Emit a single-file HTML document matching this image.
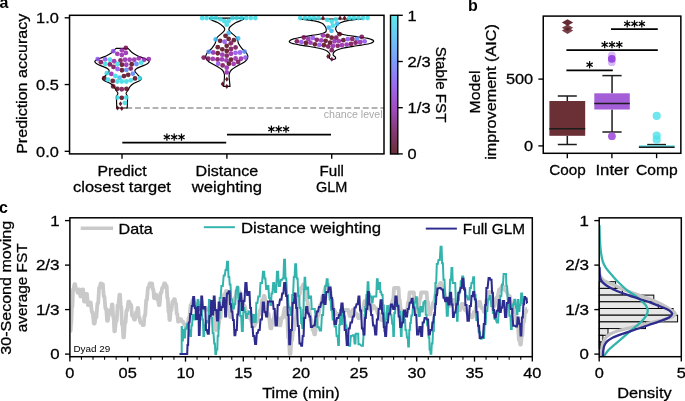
<!DOCTYPE html>
<html><head><meta charset="utf-8"><title>Figure</title>
<style>
html,body{margin:0;padding:0;background:#fff;}
body{width:685px;height:401px;overflow:hidden;}
svg{display:block;font-family:"Liberation Sans",sans-serif;opacity:0.999;will-change:transform;}
</style></head><body>
<svg width="685" height="401" viewBox="0 0 685 401">
<rect x="0" y="0" width="685" height="401" fill="#fff"/>
<line x1="126.30" y1="108.00" x2="384.00" y2="108.00" stroke="#b3b3b3" stroke-width="1.85" stroke-dasharray="5.9 2.86"/>
<text x="382.60" y="118.00" font-size="10.60" text-anchor="end" fill="#a9a9a9">chance level</text>
<path d="M116.10,48.30 C115.75,48.67 114.80,49.72 114.00,50.50 C113.20,51.28 112.47,52.17 111.30,53.00 C110.13,53.83 108.85,54.62 107.00,55.50 C105.15,56.38 102.08,57.47 100.20,58.30 C98.32,59.13 96.60,59.90 95.70,60.50 C94.80,61.10 94.57,61.32 94.80,61.90 C95.03,62.48 95.82,63.25 97.10,64.00 C98.38,64.75 100.80,65.65 102.50,66.40 C104.20,67.15 106.18,67.75 107.30,68.50 C108.42,69.25 109.12,70.15 109.20,70.90 C109.28,71.65 108.47,72.15 107.80,73.00 C107.13,73.85 106.05,75.12 105.20,76.00 C104.35,76.88 102.93,77.58 102.70,78.30 C102.47,79.02 102.45,79.38 103.80,80.30 C105.15,81.22 109.10,82.73 110.80,83.80 C112.50,84.87 113.17,85.67 114.00,86.70 C114.83,87.73 115.15,88.90 115.80,90.00 C116.45,91.10 117.75,92.30 117.90,93.30 C118.05,94.30 116.93,94.88 116.70,96.00 C116.47,97.12 116.48,98.00 116.50,100.00 C116.52,102.00 116.75,106.67 116.80,108.00 L127.20,108.00 C127.25,106.67 127.48,102.00 127.50,100.00 C127.52,98.00 127.53,97.12 127.30,96.00 C127.07,94.88 125.95,94.30 126.10,93.30 C126.25,92.30 127.55,91.10 128.20,90.00 C128.85,88.90 129.17,87.73 130.00,86.70 C130.83,85.67 131.50,84.87 133.20,83.80 C134.90,82.73 138.85,81.22 140.20,80.30 C141.55,79.38 141.53,79.02 141.30,78.30 C141.07,77.58 139.65,76.88 138.80,76.00 C137.95,75.12 136.87,73.85 136.20,73.00 C135.53,72.15 134.72,71.65 134.80,70.90 C134.88,70.15 135.58,69.25 136.70,68.50 C137.82,67.75 139.80,67.15 141.50,66.40 C143.20,65.65 145.62,64.75 146.90,64.00 C148.18,63.25 148.97,62.48 149.20,61.90 C149.43,61.32 149.20,61.10 148.30,60.50 C147.40,59.90 145.68,59.13 143.80,58.30 C141.92,57.47 138.85,56.38 137.00,55.50 C135.15,54.62 133.87,53.83 132.70,53.00 C131.53,52.17 130.80,51.28 130.00,50.50 C129.20,49.72 128.25,48.67 127.90,48.30 Z" fill="none" stroke="#000" stroke-width="1.15" stroke-linejoin="round"/>
<circle cx="125.83" cy="47.88" r="2.4" fill="#760b55" fill-opacity="0.86"/>
<circle cx="113.22" cy="51.19" r="2.4" fill="#8b4feb" fill-opacity="0.86"/>
<circle cx="121.94" cy="50.34" r="2.4" fill="#9123aa" fill-opacity="0.86"/>
<circle cx="117.30" cy="53.85" r="2.4" fill="#9123aa" fill-opacity="0.86"/>
<circle cx="121.75" cy="55.08" r="2.4" fill="#9123aa" fill-opacity="0.86"/>
<circle cx="125.83" cy="52.90" r="2.4" fill="#9123aa" fill-opacity="0.86"/>
<circle cx="97.77" cy="59.06" r="2.4" fill="#8b4feb" fill-opacity="0.86"/>
<circle cx="105.17" cy="59.35" r="2.4" fill="#8b4feb" fill-opacity="0.86"/>
<circle cx="109.91" cy="59.73" r="2.4" fill="#39dae5" fill-opacity="0.86"/>
<circle cx="114.17" cy="61.24" r="2.4" fill="#9123aa" fill-opacity="0.86"/>
<circle cx="120.52" cy="60.48" r="2.4" fill="#760b55" fill-opacity="0.86"/>
<circle cx="125.07" cy="59.73" r="2.4" fill="#9123aa" fill-opacity="0.86"/>
<circle cx="129.62" cy="59.73" r="2.4" fill="#9123aa" fill-opacity="0.86"/>
<circle cx="134.27" cy="59.73" r="2.4" fill="#9123aa" fill-opacity="0.86"/>
<circle cx="138.82" cy="58.30" r="2.4" fill="#9123aa" fill-opacity="0.86"/>
<circle cx="144.03" cy="59.73" r="2.4" fill="#9123aa" fill-opacity="0.86"/>
<circle cx="148.77" cy="59.06" r="2.4" fill="#9123aa" fill-opacity="0.86"/>
<circle cx="100.90" cy="62.19" r="2.4" fill="#760b55" fill-opacity="0.86"/>
<circle cx="105.17" cy="63.99" r="2.4" fill="#39dae5" fill-opacity="0.86"/>
<circle cx="109.91" cy="64.46" r="2.4" fill="#760b55" fill-opacity="0.86"/>
<circle cx="117.49" cy="63.99" r="2.4" fill="#39dae5" fill-opacity="0.86"/>
<circle cx="121.94" cy="64.75" r="2.4" fill="#56071c" fill-opacity="0.86"/>
<circle cx="126.30" cy="64.75" r="2.4" fill="#9123aa" fill-opacity="0.86"/>
<circle cx="131.71" cy="64.27" r="2.4" fill="#56071c" fill-opacity="0.86"/>
<circle cx="136.45" cy="63.99" r="2.4" fill="#5687f7" fill-opacity="0.86"/>
<circle cx="141.18" cy="62.66" r="2.4" fill="#39dae5" fill-opacity="0.86"/>
<circle cx="113.51" cy="66.93" r="2.4" fill="#760b55" fill-opacity="0.86"/>
<circle cx="117.49" cy="69.01" r="2.4" fill="#8b4feb" fill-opacity="0.86"/>
<circle cx="121.94" cy="70.25" r="2.4" fill="#56071c" fill-opacity="0.86"/>
<circle cx="126.30" cy="69.96" r="2.4" fill="#5687f7" fill-opacity="0.86"/>
<circle cx="130.76" cy="68.54" r="2.4" fill="#760b55" fill-opacity="0.86"/>
<circle cx="106.87" cy="73.14" r="2.4" fill="#39dae5" fill-opacity="0.86"/>
<circle cx="111.33" cy="73.90" r="2.4" fill="#9123aa" fill-opacity="0.86"/>
<circle cx="115.40" cy="75.98" r="2.4" fill="#39dae5" fill-opacity="0.86"/>
<circle cx="119.57" cy="77.69" r="2.4" fill="#3ab8f2" fill-opacity="0.86"/>
<circle cx="123.93" cy="76.08" r="2.4" fill="#56071c" fill-opacity="0.86"/>
<circle cx="128.20" cy="74.84" r="2.4" fill="#56071c" fill-opacity="0.86"/>
<circle cx="132.84" cy="73.71" r="2.4" fill="#5687f7" fill-opacity="0.86"/>
<circle cx="104.22" cy="78.16" r="2.4" fill="#56071c" fill-opacity="0.86"/>
<circle cx="108.01" cy="79.77" r="2.4" fill="#39dae5" fill-opacity="0.86"/>
<circle cx="112.75" cy="81.00" r="2.4" fill="#56071c" fill-opacity="0.86"/>
<circle cx="117.30" cy="81.48" r="2.4" fill="#39dae5" fill-opacity="0.86"/>
<circle cx="121.75" cy="81.48" r="2.4" fill="#39dae5" fill-opacity="0.86"/>
<circle cx="126.30" cy="81.48" r="2.4" fill="#39dae5" fill-opacity="0.86"/>
<circle cx="130.76" cy="80.34" r="2.4" fill="#39dae5" fill-opacity="0.86"/>
<circle cx="135.02" cy="78.45" r="2.4" fill="#56071c" fill-opacity="0.86"/>
<circle cx="139.76" cy="78.16" r="2.4" fill="#39dae5" fill-opacity="0.86"/>
<circle cx="113.22" cy="86.41" r="2.4" fill="#56071c" fill-opacity="0.86"/>
<circle cx="117.30" cy="88.87" r="2.4" fill="#56071c" fill-opacity="0.86"/>
<circle cx="121.75" cy="89.25" r="2.4" fill="#760b55" fill-opacity="0.86"/>
<circle cx="126.49" cy="88.87" r="2.4" fill="#56071c" fill-opacity="0.86"/>
<circle cx="117.30" cy="97.59" r="2.4" fill="#39dae5" fill-opacity="0.86"/>
<circle cx="121.75" cy="97.78" r="2.4" fill="#56071c" fill-opacity="0.86"/>
<circle cx="126.30" cy="97.59" r="2.4" fill="#39dae5" fill-opacity="0.86"/>
<circle cx="124.88" cy="102.81" r="2.4" fill="#39dae5" fill-opacity="0.86"/>
<path d="M120.52,101.20 L122.27,103.75 L120.52,106.30 L118.77,103.75 Z" fill="#56071c" fill-opacity="0.9"/>
<path d="M117.49,105.47 L119.24,108.02 L117.49,110.57 L115.74,108.02 Z" fill="#56071c" fill-opacity="0.9"/>
<path d="M121.75,105.94 L123.50,108.49 L121.75,111.04 L120.00,108.49 Z" fill="#56071c" fill-opacity="0.9"/>
<path d="M209.50,18.05 C209.73,18.34 209.55,19.04 210.90,19.80 C212.25,20.56 215.47,21.40 217.60,22.60 C219.73,23.80 222.52,25.78 223.70,27.00 C224.88,28.22 224.90,28.95 224.70,29.90 C224.50,30.85 223.82,31.37 222.50,32.70 C221.18,34.03 218.03,36.10 216.80,37.90 C215.57,39.70 215.93,41.77 215.10,43.50 C214.27,45.23 213.17,46.67 211.80,48.30 C210.43,49.93 207.88,51.72 206.90,53.30 C205.92,54.88 205.58,56.38 205.90,57.80 C206.22,59.22 207.07,60.43 208.80,61.80 C210.53,63.17 214.05,64.63 216.30,66.00 C218.55,67.37 220.97,68.68 222.30,70.00 C223.63,71.32 223.95,72.57 224.30,73.90 C224.65,75.23 224.47,76.48 224.40,78.00 C224.33,79.52 224.03,81.60 223.90,83.00 C223.77,84.40 223.65,85.83 223.60,86.40 L230.00,86.40 C229.95,85.83 229.83,84.40 229.70,83.00 C229.57,81.60 229.27,79.52 229.20,78.00 C229.13,76.48 228.95,75.23 229.30,73.90 C229.65,72.57 229.97,71.32 231.30,70.00 C232.63,68.68 235.05,67.37 237.30,66.00 C239.55,64.63 243.07,63.17 244.80,61.80 C246.53,60.43 247.38,59.22 247.70,57.80 C248.02,56.38 247.68,54.88 246.70,53.30 C245.72,51.72 243.17,49.93 241.80,48.30 C240.43,46.67 239.33,45.23 238.50,43.50 C237.67,41.77 238.03,39.70 236.80,37.90 C235.57,36.10 232.42,34.03 231.10,32.70 C229.78,31.37 229.10,30.85 228.90,29.90 C228.70,28.95 228.72,28.22 229.90,27.00 C231.08,25.78 233.87,23.80 236.00,22.60 C238.13,21.40 241.35,20.56 242.70,19.80 C244.05,19.04 243.87,18.34 244.10,18.05 Z" fill="none" stroke="#000" stroke-width="1.15" stroke-linejoin="round"/>
<circle cx="202.11" cy="18.06" r="2.4" fill="#39dae5" fill-opacity="0.86"/>
<circle cx="206.56" cy="18.06" r="2.4" fill="#39dae5" fill-opacity="0.86"/>
<circle cx="211.59" cy="18.06" r="2.4" fill="#39dae5" fill-opacity="0.86"/>
<circle cx="216.04" cy="18.06" r="2.4" fill="#39dae5" fill-opacity="0.86"/>
<circle cx="232.44" cy="18.06" r="2.4" fill="#39dae5" fill-opacity="0.86"/>
<circle cx="236.71" cy="18.06" r="2.4" fill="#39dae5" fill-opacity="0.86"/>
<circle cx="241.45" cy="18.06" r="2.4" fill="#39dae5" fill-opacity="0.86"/>
<circle cx="246.18" cy="18.06" r="2.4" fill="#39dae5" fill-opacity="0.86"/>
<circle cx="250.73" cy="18.06" r="2.4" fill="#39dae5" fill-opacity="0.86"/>
<circle cx="255.38" cy="18.06" r="2.4" fill="#39dae5" fill-opacity="0.86"/>
<circle cx="220.40" cy="19.19" r="2.4" fill="#39dae5" fill-opacity="0.86"/>
<circle cx="224.38" cy="21.18" r="2.4" fill="#39dae5" fill-opacity="0.86"/>
<circle cx="228.65" cy="20.90" r="2.4" fill="#39dae5" fill-opacity="0.86"/>
<circle cx="226.75" cy="24.69" r="2.4" fill="#39dae5" fill-opacity="0.86"/>
<circle cx="228.65" cy="33.03" r="2.4" fill="#3ab8f2" fill-opacity="0.86"/>
<circle cx="225.52" cy="35.78" r="2.4" fill="#56071c" fill-opacity="0.86"/>
<circle cx="228.65" cy="38.91" r="2.4" fill="#56071c" fill-opacity="0.86"/>
<circle cx="220.12" cy="40.81" r="2.4" fill="#56071c" fill-opacity="0.86"/>
<circle cx="224.57" cy="41.75" r="2.4" fill="#8b4feb" fill-opacity="0.86"/>
<circle cx="233.86" cy="40.14" r="2.4" fill="#56071c" fill-opacity="0.86"/>
<circle cx="215.66" cy="39.38" r="2.4" fill="#3ab8f2" fill-opacity="0.86"/>
<circle cx="238.13" cy="38.44" r="2.4" fill="#3ab8f2" fill-opacity="0.86"/>
<circle cx="230.83" cy="43.36" r="2.4" fill="#760b55" fill-opacity="0.86"/>
<circle cx="226.75" cy="45.83" r="2.4" fill="#56071c" fill-opacity="0.86"/>
<circle cx="217.75" cy="47.16" r="2.4" fill="#56071c" fill-opacity="0.86"/>
<circle cx="235.57" cy="47.44" r="2.4" fill="#760b55" fill-opacity="0.86"/>
<circle cx="222.30" cy="49.29" r="2.4" fill="#56071c" fill-opacity="0.86"/>
<circle cx="226.75" cy="50.90" r="2.4" fill="#56071c" fill-opacity="0.86"/>
<circle cx="231.02" cy="49.00" r="2.4" fill="#760b55" fill-opacity="0.86"/>
<circle cx="208.74" cy="51.85" r="2.4" fill="#5687f7" fill-opacity="0.86"/>
<circle cx="213.20" cy="52.51" r="2.4" fill="#9123aa" fill-opacity="0.86"/>
<circle cx="217.75" cy="53.27" r="2.4" fill="#56071c" fill-opacity="0.86"/>
<circle cx="222.30" cy="54.69" r="2.4" fill="#9123aa" fill-opacity="0.86"/>
<circle cx="226.75" cy="55.64" r="2.4" fill="#760b55" fill-opacity="0.86"/>
<circle cx="231.02" cy="53.74" r="2.4" fill="#9123aa" fill-opacity="0.86"/>
<circle cx="235.57" cy="52.80" r="2.4" fill="#8b4feb" fill-opacity="0.86"/>
<circle cx="240.02" cy="52.51" r="2.4" fill="#8b4feb" fill-opacity="0.86"/>
<circle cx="244.48" cy="51.56" r="2.4" fill="#5687f7" fill-opacity="0.86"/>
<circle cx="203.72" cy="57.54" r="2.4" fill="#760b55" fill-opacity="0.86"/>
<circle cx="208.27" cy="58.77" r="2.4" fill="#760b55" fill-opacity="0.86"/>
<circle cx="212.82" cy="58.96" r="2.4" fill="#9123aa" fill-opacity="0.86"/>
<circle cx="217.56" cy="59.43" r="2.4" fill="#760b55" fill-opacity="0.86"/>
<circle cx="222.01" cy="59.43" r="2.4" fill="#9123aa" fill-opacity="0.86"/>
<circle cx="226.47" cy="60.38" r="2.4" fill="#9123aa" fill-opacity="0.86"/>
<circle cx="231.02" cy="59.72" r="2.4" fill="#56071c" fill-opacity="0.86"/>
<circle cx="235.57" cy="58.48" r="2.4" fill="#9123aa" fill-opacity="0.86"/>
<circle cx="240.97" cy="58.77" r="2.4" fill="#9123aa" fill-opacity="0.86"/>
<circle cx="245.43" cy="57.54" r="2.4" fill="#8b4feb" fill-opacity="0.86"/>
<circle cx="218.22" cy="63.70" r="2.4" fill="#8b4feb" fill-opacity="0.86"/>
<circle cx="222.68" cy="65.40" r="2.4" fill="#760b55" fill-opacity="0.86"/>
<circle cx="228.93" cy="63.70" r="2.4" fill="#56071c" fill-opacity="0.86"/>
<circle cx="233.67" cy="63.89" r="2.4" fill="#9123aa" fill-opacity="0.86"/>
<circle cx="238.13" cy="61.99" r="2.4" fill="#760b55" fill-opacity="0.86"/>
<circle cx="226.75" cy="67.68" r="2.4" fill="#9123aa" fill-opacity="0.86"/>
<circle cx="226.75" cy="72.42" r="2.4" fill="#9123aa" fill-opacity="0.86"/>
<path d="M226.80,76.75 L228.55,79.30 L226.80,81.85 L225.05,79.30 Z" fill="#56071c" fill-opacity="0.9"/>
<path d="M222.50,81.45 L224.25,84.00 L222.50,86.55 L220.75,84.00 Z" fill="#56071c" fill-opacity="0.9"/>
<path d="M226.80,83.85 L228.55,86.40 L226.80,88.95 L225.05,86.40 Z" fill="#56071c" fill-opacity="0.9"/>
<path d="M300.20,19.00 C302.57,19.32 310.77,20.18 314.40,20.90 C318.03,21.62 320.25,22.43 322.00,23.30 C323.75,24.17 324.18,25.08 324.90,26.10 C325.62,27.12 326.23,28.37 326.30,29.40 C326.37,30.43 326.48,31.50 325.30,32.30 C324.12,33.10 322.58,33.50 319.20,34.20 C315.82,34.90 309.27,35.72 305.00,36.50 C300.73,37.28 296.22,38.10 293.60,38.90 C290.98,39.70 289.62,40.58 289.30,41.30 C288.98,42.02 289.88,42.57 291.70,43.20 C293.52,43.83 297.23,44.55 300.20,45.10 C303.17,45.65 306.37,45.97 309.50,46.50 C312.63,47.03 316.32,47.68 319.00,48.30 C321.68,48.92 323.95,49.48 325.60,50.20 C327.25,50.92 328.18,51.80 328.90,52.60 C329.62,53.40 329.82,54.10 329.90,55.00 C329.98,55.90 329.08,57.22 329.40,58.00 C329.72,58.78 331.40,59.42 331.80,59.70 L331.80,59.70 C332.35,59.58 334.48,59.40 335.10,59.00 C335.72,58.60 335.82,57.97 335.50,57.30 C335.18,56.63 333.52,55.78 333.20,55.00 C332.88,54.22 333.05,53.40 333.60,52.60 C334.15,51.80 334.98,50.92 336.50,50.20 C338.02,49.48 339.93,48.93 342.70,48.30 C345.47,47.67 350.00,46.93 353.10,46.40 C356.20,45.87 358.35,45.63 361.30,45.10 C364.25,44.57 368.75,43.92 370.80,43.20 C372.85,42.48 374.08,41.60 373.60,40.80 C373.12,40.00 370.43,39.03 367.90,38.40 C365.37,37.77 362.35,37.60 358.40,37.00 C354.45,36.40 347.58,35.52 344.20,34.80 C340.82,34.08 339.52,33.60 338.10,32.70 C336.68,31.80 335.95,30.50 335.70,29.40 C335.45,28.30 335.82,27.20 336.60,26.10 C337.38,25.00 338.33,23.75 340.40,22.80 C342.47,21.85 345.28,21.03 349.00,20.40 C352.72,19.77 360.42,19.23 362.70,19.00 Z" fill="none" stroke="#000" stroke-width="1.15" stroke-linejoin="round"/>
<circle cx="300.22" cy="18.06" r="2.4" fill="#39dae5" fill-opacity="0.86"/>
<circle cx="304.96" cy="18.06" r="2.4" fill="#39dae5" fill-opacity="0.86"/>
<circle cx="309.51" cy="18.06" r="2.4" fill="#39dae5" fill-opacity="0.86"/>
<circle cx="313.96" cy="18.06" r="2.4" fill="#39dae5" fill-opacity="0.86"/>
<circle cx="318.51" cy="18.06" r="2.4" fill="#39dae5" fill-opacity="0.86"/>
<circle cx="327.23" cy="19.95" r="2.4" fill="#39dae5" fill-opacity="0.86"/>
<circle cx="335.76" cy="19.29" r="2.4" fill="#39dae5" fill-opacity="0.86"/>
<circle cx="331.69" cy="21.56" r="2.4" fill="#39dae5" fill-opacity="0.86"/>
<circle cx="337.18" cy="23.74" r="2.4" fill="#3ab8f2" fill-opacity="0.86"/>
<circle cx="332.92" cy="25.64" r="2.4" fill="#39dae5" fill-opacity="0.86"/>
<circle cx="328.65" cy="27.54" r="2.4" fill="#3ab8f2" fill-opacity="0.86"/>
<circle cx="331.50" cy="30.85" r="2.4" fill="#3ab8f2" fill-opacity="0.86"/>
<circle cx="339.55" cy="34.17" r="2.4" fill="#56071c" fill-opacity="0.86"/>
<circle cx="322.97" cy="35.40" r="2.4" fill="#9123aa" fill-opacity="0.86"/>
<circle cx="327.52" cy="35.78" r="2.4" fill="#56071c" fill-opacity="0.86"/>
<circle cx="331.69" cy="37.68" r="2.4" fill="#56071c" fill-opacity="0.86"/>
<circle cx="336.24" cy="37.68" r="2.4" fill="#760b55" fill-opacity="0.86"/>
<circle cx="303.82" cy="37.49" r="2.4" fill="#760b55" fill-opacity="0.86"/>
<circle cx="308.27" cy="38.91" r="2.4" fill="#9123aa" fill-opacity="0.86"/>
<circle cx="312.82" cy="37.96" r="2.4" fill="#8b4feb" fill-opacity="0.86"/>
<circle cx="316.81" cy="39.86" r="2.4" fill="#760b55" fill-opacity="0.86"/>
<circle cx="321.26" cy="40.33" r="2.4" fill="#9123aa" fill-opacity="0.86"/>
<circle cx="325.62" cy="40.81" r="2.4" fill="#56071c" fill-opacity="0.86"/>
<circle cx="330.08" cy="42.70" r="2.4" fill="#56071c" fill-opacity="0.86"/>
<circle cx="334.53" cy="41.28" r="2.4" fill="#9123aa" fill-opacity="0.86"/>
<circle cx="338.89" cy="41.09" r="2.4" fill="#9123aa" fill-opacity="0.86"/>
<circle cx="343.35" cy="40.14" r="2.4" fill="#56071c" fill-opacity="0.86"/>
<circle cx="347.80" cy="39.19" r="2.4" fill="#8b4feb" fill-opacity="0.86"/>
<circle cx="296.90" cy="41.28" r="2.4" fill="#760b55" fill-opacity="0.86"/>
<circle cx="301.36" cy="42.04" r="2.4" fill="#8b4feb" fill-opacity="0.86"/>
<circle cx="305.91" cy="42.99" r="2.4" fill="#56071c" fill-opacity="0.86"/>
<circle cx="310.45" cy="42.70" r="2.4" fill="#9123aa" fill-opacity="0.86"/>
<circle cx="314.91" cy="44.31" r="2.4" fill="#56071c" fill-opacity="0.86"/>
<circle cx="319.36" cy="44.88" r="2.4" fill="#8b4feb" fill-opacity="0.86"/>
<circle cx="323.91" cy="45.26" r="2.4" fill="#56071c" fill-opacity="0.86"/>
<circle cx="328.18" cy="46.49" r="2.4" fill="#760b55" fill-opacity="0.86"/>
<circle cx="332.92" cy="46.02" r="2.4" fill="#9123aa" fill-opacity="0.86"/>
<circle cx="337.66" cy="45.83" r="2.4" fill="#760b55" fill-opacity="0.86"/>
<circle cx="341.92" cy="45.26" r="2.4" fill="#9123aa" fill-opacity="0.86"/>
<circle cx="346.66" cy="44.60" r="2.4" fill="#9123aa" fill-opacity="0.86"/>
<circle cx="349.43" cy="18.06" r="2.4" fill="#39dae5" fill-opacity="0.86"/>
<circle cx="353.89" cy="18.06" r="2.4" fill="#39dae5" fill-opacity="0.86"/>
<circle cx="358.44" cy="18.06" r="2.4" fill="#39dae5" fill-opacity="0.86"/>
<circle cx="362.99" cy="18.06" r="2.4" fill="#39dae5" fill-opacity="0.86"/>
<circle cx="367.63" cy="18.06" r="2.4" fill="#39dae5" fill-opacity="0.86"/>
<circle cx="361.75" cy="37.01" r="2.4" fill="#760b55" fill-opacity="0.86"/>
<circle cx="357.01" cy="38.91" r="2.4" fill="#5687f7" fill-opacity="0.86"/>
<circle cx="352.27" cy="38.91" r="2.4" fill="#760b55" fill-opacity="0.86"/>
<circle cx="364.60" cy="41.28" r="2.4" fill="#8b4feb" fill-opacity="0.86"/>
<circle cx="360.14" cy="42.23" r="2.4" fill="#9123aa" fill-opacity="0.86"/>
<circle cx="355.59" cy="42.70" r="2.4" fill="#760b55" fill-opacity="0.86"/>
<circle cx="351.04" cy="43.93" r="2.4" fill="#760b55" fill-opacity="0.86"/>
<circle cx="331.75" cy="50.22" r="2.4" fill="#760b55" fill-opacity="0.86"/>
<path d="M322.97,15.50 L324.72,18.05 L322.97,20.60 L321.22,18.05 Z" fill="#56071c" fill-opacity="0.9"/>
<path d="M340.03,15.50 L341.78,18.05 L340.03,20.60 L338.28,18.05 Z" fill="#56071c" fill-opacity="0.9"/>
<path d="M344.58,15.50 L346.33,18.05 L344.58,20.60 L342.83,18.05 Z" fill="#56071c" fill-opacity="0.9"/>
<path d="M328.00,53.85 L329.75,56.40 L328.00,58.95 L326.25,56.40 Z" fill="#56071c" fill-opacity="0.9"/>
<path d="M331.80,56.65 L333.55,59.20 L331.80,61.75 L330.05,59.20 Z" fill="#760b55" fill-opacity="0.9"/>
<rect x="69.55" y="15.30" width="314.45" height="138.60" fill="none" stroke="#000" stroke-width="1.5"/>
<line x1="64.65" y1="17.80" x2="69.55" y2="17.80" stroke="#000" stroke-width="1.35" />
<text x="58.80" y="23.15" font-size="14.95" text-anchor="end" fill="#000" textLength="22.74" lengthAdjust="spacingAndGlyphs" stroke="#000" stroke-width="0.28">1.0</text>
<line x1="64.65" y1="84.55" x2="69.55" y2="84.55" stroke="#000" stroke-width="1.35" />
<text x="58.80" y="89.90" font-size="14.95" text-anchor="end" fill="#000" textLength="22.74" lengthAdjust="spacingAndGlyphs" stroke="#000" stroke-width="0.28">0.5</text>
<line x1="64.65" y1="151.30" x2="69.55" y2="151.30" stroke="#000" stroke-width="1.35" />
<text x="58.80" y="156.65" font-size="14.95" text-anchor="end" fill="#000" textLength="22.74" lengthAdjust="spacingAndGlyphs" stroke="#000" stroke-width="0.28">0.0</text>
<line x1="122.00" y1="153.90" x2="122.00" y2="158.80" stroke="#000" stroke-width="1.35" />
<text x="122.00" y="175.60" font-size="14.95" text-anchor="middle" fill="#000" textLength="49.25" lengthAdjust="spacingAndGlyphs" stroke="#000" stroke-width="0.28">Predict</text>
<text x="122.00" y="191.50" font-size="14.95" text-anchor="middle" fill="#000" textLength="97.92" lengthAdjust="spacingAndGlyphs" stroke="#000" stroke-width="0.28">closest target</text>
<line x1="226.90" y1="153.90" x2="226.90" y2="158.80" stroke="#000" stroke-width="1.35" />
<text x="226.90" y="175.60" font-size="14.95" text-anchor="middle" fill="#000" textLength="62.53" lengthAdjust="spacingAndGlyphs" stroke="#000" stroke-width="0.28">Distance</text>
<text x="226.90" y="191.50" font-size="14.95" text-anchor="middle" fill="#000" textLength="70.33" lengthAdjust="spacingAndGlyphs" stroke="#000" stroke-width="0.28">weighting</text>
<line x1="331.70" y1="153.90" x2="331.70" y2="158.80" stroke="#000" stroke-width="1.35" />
<text x="331.70" y="175.60" font-size="14.95" text-anchor="middle" fill="#000" textLength="24.45" lengthAdjust="spacingAndGlyphs" stroke="#000" stroke-width="0.28">Full</text>
<text x="331.70" y="191.50" font-size="14.95" text-anchor="middle" fill="#000" textLength="31.39" lengthAdjust="spacingAndGlyphs" stroke="#000" stroke-width="0.28">GLM</text>
<text x="27.30" y="83.80" font-size="14.95" text-anchor="middle" fill="#000" textLength="140.10" lengthAdjust="spacingAndGlyphs" stroke="#000" stroke-width="0.28" transform="rotate(-90 27.30 83.80)">Prediction accuracy</text>
<line x1="122.30" y1="142.60" x2="226.20" y2="142.60" stroke="#000" stroke-width="1.7" />
<line x1="166.90" y1="133.60" x2="166.90" y2="140.80" stroke="#000" stroke-width="1.25" />
<line x1="163.78" y1="135.40" x2="170.02" y2="139.00" stroke="#000" stroke-width="1.25" />
<line x1="170.02" y1="135.40" x2="163.78" y2="139.00" stroke="#000" stroke-width="1.25" />
<line x1="174.20" y1="133.60" x2="174.20" y2="140.80" stroke="#000" stroke-width="1.25" />
<line x1="171.08" y1="135.40" x2="177.32" y2="139.00" stroke="#000" stroke-width="1.25" />
<line x1="177.32" y1="135.40" x2="171.08" y2="139.00" stroke="#000" stroke-width="1.25" />
<line x1="181.50" y1="133.60" x2="181.50" y2="140.80" stroke="#000" stroke-width="1.25" />
<line x1="178.38" y1="135.40" x2="184.62" y2="139.00" stroke="#000" stroke-width="1.25" />
<line x1="184.62" y1="135.40" x2="178.38" y2="139.00" stroke="#000" stroke-width="1.25" />
<line x1="227.00" y1="134.60" x2="331.00" y2="134.60" stroke="#000" stroke-width="1.7" />
<line x1="271.40" y1="125.60" x2="271.40" y2="132.80" stroke="#000" stroke-width="1.25" />
<line x1="268.28" y1="127.40" x2="274.52" y2="131.00" stroke="#000" stroke-width="1.25" />
<line x1="274.52" y1="127.40" x2="268.28" y2="131.00" stroke="#000" stroke-width="1.25" />
<line x1="278.70" y1="125.60" x2="278.70" y2="132.80" stroke="#000" stroke-width="1.25" />
<line x1="275.58" y1="127.40" x2="281.82" y2="131.00" stroke="#000" stroke-width="1.25" />
<line x1="281.82" y1="127.40" x2="275.58" y2="131.00" stroke="#000" stroke-width="1.25" />
<line x1="286.00" y1="125.60" x2="286.00" y2="132.80" stroke="#000" stroke-width="1.25" />
<line x1="282.88" y1="127.40" x2="289.12" y2="131.00" stroke="#000" stroke-width="1.25" />
<line x1="289.12" y1="127.40" x2="282.88" y2="131.00" stroke="#000" stroke-width="1.25" />
<defs><linearGradient id="cb" x1="0" y1="0" x2="0" y2="1"><stop offset="0" stop-color="#5ce8ee"/><stop offset="0.17" stop-color="#6cc4f6"/><stop offset="0.333" stop-color="#7d9cfa"/><stop offset="0.5" stop-color="#9a6cf0"/><stop offset="0.667" stop-color="#a24cc2"/><stop offset="0.83" stop-color="#863a78"/><stop offset="1" stop-color="#6b2e38"/></linearGradient></defs>
<rect x="390.5" y="15.3" width="7.3" height="138.7" fill="url(#cb)" stroke="#000" stroke-width="1.4"/>
<line x1="397.80" y1="15.30" x2="402.80" y2="15.30" stroke="#000" stroke-width="1.35" />
<text x="407.60" y="20.70" font-size="14.95" text-anchor="start" fill="#000" textLength="9.10" lengthAdjust="spacingAndGlyphs" stroke="#000" stroke-width="0.28">1</text>
<line x1="397.80" y1="61.50" x2="402.80" y2="61.50" stroke="#000" stroke-width="1.35" />
<text x="407.60" y="66.90" font-size="14.95" text-anchor="start" fill="#000" textLength="23.01" lengthAdjust="spacingAndGlyphs" stroke="#000" stroke-width="0.28">2/3</text>
<line x1="397.80" y1="107.70" x2="402.80" y2="107.70" stroke="#000" stroke-width="1.35" />
<text x="407.60" y="113.10" font-size="14.95" text-anchor="start" fill="#000" textLength="23.01" lengthAdjust="spacingAndGlyphs" stroke="#000" stroke-width="0.28">1/3</text>
<line x1="397.80" y1="153.90" x2="402.80" y2="153.90" stroke="#000" stroke-width="1.35" />
<text x="407.60" y="159.30" font-size="14.95" text-anchor="start" fill="#000" textLength="9.10" lengthAdjust="spacingAndGlyphs" stroke="#000" stroke-width="0.28">0</text>
<text x="436.40" y="84.60" font-size="14.95" text-anchor="middle" fill="#000" textLength="75.63" lengthAdjust="spacingAndGlyphs" stroke="#000" stroke-width="0.28" transform="rotate(90 436.40 84.60)">Stable FST</text>
<text x="-0.60" y="7.80" font-size="16.00" text-anchor="start" fill="#000" font-weight="bold">a</text>
<line x1="567.30" y1="96.00" x2="567.30" y2="101.00" stroke="#1c1c1c" stroke-width="1.5" />
<line x1="567.30" y1="135.80" x2="567.30" y2="144.50" stroke="#1c1c1c" stroke-width="1.5" />
<line x1="557.80" y1="96.00" x2="576.80" y2="96.00" stroke="#1c1c1c" stroke-width="1.5" />
<line x1="557.80" y1="144.50" x2="576.80" y2="144.50" stroke="#1c1c1c" stroke-width="1.5" />
<rect x="549.40" y="101.00" width="35.80" height="34.80" fill="#6a3036"/>
<line x1="549.40" y1="128.80" x2="585.20" y2="128.80" stroke="#1c1c1c" stroke-width="1.5" />
<line x1="612.05" y1="75.60" x2="612.05" y2="93.30" stroke="#1c1c1c" stroke-width="1.5" />
<line x1="612.05" y1="109.50" x2="612.05" y2="132.00" stroke="#1c1c1c" stroke-width="1.5" />
<line x1="602.40" y1="75.60" x2="621.60" y2="75.60" stroke="#1c1c1c" stroke-width="1.5" />
<line x1="602.40" y1="132.00" x2="621.60" y2="132.00" stroke="#1c1c1c" stroke-width="1.5" />
<rect x="594.30" y="93.30" width="35.50" height="16.20" fill="#a45fd8"/>
<line x1="594.30" y1="103.40" x2="629.80" y2="103.40" stroke="#1c1c1c" stroke-width="1.5" />
<line x1="647.20" y1="144.60" x2="666.00" y2="144.60" stroke="#1c1c1c" stroke-width="1.5" />
<rect x="638.9" y="145.4" width="35.7" height="2.6" fill="#50d4e0"/>
<line x1="638.90" y1="147.30" x2="674.60" y2="147.30" stroke="#1c1c1c" stroke-width="1.5" />
<path d="M567.5,19.20 L573.2,22.50 L567.5,25.80 L561.8,22.50 Z" fill="#5e2028" fill-opacity="0.95"/>
<path d="M567.5,24.40 L573.2,27.70 L567.5,31.00 L561.8,27.70 Z" fill="#5e2028" fill-opacity="0.85"/>
<path d="M567.5,27.30 L573.2,30.60 L567.5,33.90 L561.8,30.60 Z" fill="#5e2028" fill-opacity="0.85"/>
<circle cx="611.8" cy="55.4" r="3.9" fill="#a868ea" fill-opacity="0.45"/>
<circle cx="611.8" cy="62.2" r="3.9" fill="#a868ea" fill-opacity="0.45"/>
<circle cx="611.8" cy="58.8" r="3.9" fill="#9240e0" fill-opacity="0.92"/>
<circle cx="611.9" cy="136.2" r="3.9" fill="#a050dc" fill-opacity="0.9"/>
<circle cx="656.7" cy="115.9" r="4.1" fill="#4fe0ea" fill-opacity="0.8"/>
<circle cx="656.7" cy="135.6" r="4.1" fill="#4fe0ea" fill-opacity="0.8"/>
<circle cx="656.7" cy="139.7" r="4.1" fill="#4fe0ea" fill-opacity="0.8"/>
<rect x="543.25" y="16.10" width="137.60" height="137.20" fill="none" stroke="#000" stroke-width="1.5"/>
<line x1="538.35" y1="145.90" x2="543.25" y2="145.90" stroke="#000" stroke-width="1.35" />
<text x="533.20" y="151.20" font-size="14.95" text-anchor="end" fill="#000" textLength="9.10" lengthAdjust="spacingAndGlyphs" stroke="#000" stroke-width="0.28">0</text>
<line x1="538.35" y1="79.10" x2="543.25" y2="79.10" stroke="#000" stroke-width="1.35" />
<text x="533.20" y="84.40" font-size="14.95" text-anchor="end" fill="#000" textLength="27.29" lengthAdjust="spacingAndGlyphs" stroke="#000" stroke-width="0.28">500</text>
<line x1="567.30" y1="153.30" x2="567.30" y2="158.20" stroke="#000" stroke-width="1.35" />
<text x="567.60" y="174.80" font-size="14.95" text-anchor="middle" fill="#000" textLength="36.56" lengthAdjust="spacingAndGlyphs" stroke="#000" stroke-width="0.28">Coop</text>
<line x1="611.90" y1="153.30" x2="611.90" y2="158.20" stroke="#000" stroke-width="1.35" />
<text x="612.20" y="174.80" font-size="14.95" text-anchor="middle" fill="#000" textLength="33.56" lengthAdjust="spacingAndGlyphs" stroke="#000" stroke-width="0.28">Inter</text>
<line x1="656.60" y1="153.30" x2="656.60" y2="158.20" stroke="#000" stroke-width="1.35" />
<text x="656.90" y="174.80" font-size="14.95" text-anchor="middle" fill="#000" textLength="41.74" lengthAdjust="spacingAndGlyphs" stroke="#000" stroke-width="0.28">Comp</text>
<text x="479.80" y="92.00" font-size="14.95" text-anchor="middle" fill="#000" textLength="42.93" lengthAdjust="spacingAndGlyphs" stroke="#000" stroke-width="0.28" transform="rotate(-90 479.80 92.00)">Model</text>
<text x="495.50" y="92.00" font-size="14.95" text-anchor="middle" fill="#000" textLength="135.64" lengthAdjust="spacingAndGlyphs" stroke="#000" stroke-width="0.28" transform="rotate(-90 495.50 92.00)">improvement (AIC)</text>
<line x1="566.40" y1="70.40" x2="612.80" y2="70.40" stroke="#000" stroke-width="1.7" />
<line x1="589.60" y1="61.10" x2="589.60" y2="68.30" stroke="#000" stroke-width="1.25" />
<line x1="586.48" y1="62.90" x2="592.72" y2="66.50" stroke="#000" stroke-width="1.25" />
<line x1="592.72" y1="62.90" x2="586.48" y2="66.50" stroke="#000" stroke-width="1.25" />
<line x1="566.40" y1="50.10" x2="657.80" y2="50.10" stroke="#000" stroke-width="1.7" />
<line x1="604.70" y1="41.10" x2="604.70" y2="48.30" stroke="#000" stroke-width="1.25" />
<line x1="601.58" y1="42.90" x2="607.82" y2="46.50" stroke="#000" stroke-width="1.25" />
<line x1="607.82" y1="42.90" x2="601.58" y2="46.50" stroke="#000" stroke-width="1.25" />
<line x1="612.00" y1="41.10" x2="612.00" y2="48.30" stroke="#000" stroke-width="1.25" />
<line x1="608.88" y1="42.90" x2="615.12" y2="46.50" stroke="#000" stroke-width="1.25" />
<line x1="615.12" y1="42.90" x2="608.88" y2="46.50" stroke="#000" stroke-width="1.25" />
<line x1="619.30" y1="41.10" x2="619.30" y2="48.30" stroke="#000" stroke-width="1.25" />
<line x1="616.18" y1="42.90" x2="622.42" y2="46.50" stroke="#000" stroke-width="1.25" />
<line x1="622.42" y1="42.90" x2="616.18" y2="46.50" stroke="#000" stroke-width="1.25" />
<line x1="611.00" y1="29.10" x2="657.80" y2="29.10" stroke="#000" stroke-width="1.7" />
<line x1="627.20" y1="20.20" x2="627.20" y2="27.40" stroke="#000" stroke-width="1.25" />
<line x1="624.08" y1="22.00" x2="630.32" y2="25.60" stroke="#000" stroke-width="1.25" />
<line x1="630.32" y1="22.00" x2="624.08" y2="25.60" stroke="#000" stroke-width="1.25" />
<line x1="634.50" y1="20.20" x2="634.50" y2="27.40" stroke="#000" stroke-width="1.25" />
<line x1="631.38" y1="22.00" x2="637.62" y2="25.60" stroke="#000" stroke-width="1.25" />
<line x1="637.62" y1="22.00" x2="631.38" y2="25.60" stroke="#000" stroke-width="1.25" />
<line x1="641.80" y1="20.20" x2="641.80" y2="27.40" stroke="#000" stroke-width="1.25" />
<line x1="638.68" y1="22.00" x2="644.92" y2="25.60" stroke="#000" stroke-width="1.25" />
<line x1="644.92" y1="22.00" x2="638.68" y2="25.60" stroke="#000" stroke-width="1.25" />
<text x="467.90" y="11.10" font-size="16.00" text-anchor="start" fill="#000" font-weight="bold">b</text>
<clipPath id="cc"><rect x="69.9" y="217.8" width="462.4" height="138.89999999999998"/></clipPath>
<g clip-path="url(#cc)">
<polyline points="70.6,331.0 70.7,331.0 71.1,322.6 71.4,322.6 71.9,306.9 72.4,306.9 73.0,289.5 73.6,289.5 74.4,284.2 75.1,284.2 76.1,289.5 76.8,289.5 77.6,292.9 78.2,292.9 78.8,289.5 79.5,289.5 80.4,296.4 81.3,296.4 82.4,289.5 83.2,289.5 84.0,301.7 84.8,301.7 86.1,293.8 87.0,293.8 87.9,305.2 88.8,305.2 89.9,302.5 90.8,302.5 91.8,312.1 92.7,312.1 93.8,323.5 94.7,323.5 95.6,317.4 96.4,317.4 97.4,303.4 98.2,303.4 99.1,287.7 99.8,287.7 100.6,283.3 101.3,283.3 102.2,284.2 102.9,284.2 103.7,296.4 104.4,296.4 105.4,308.6 106.2,308.6 107.1,320.9 107.9,320.9 108.9,310.4 109.6,310.4 110.4,313.9 111.0,313.9 111.9,304.3 112.5,304.3 113.2,317.4 113.7,317.4 114.3,331.3 114.9,331.3 115.9,320.9 116.7,320.9 117.6,305.2 118.4,305.2 119.4,294.7 120.1,294.7 120.7,306.9 121.3,306.9 121.9,324.4 122.5,324.4 123.3,337.4 124.0,337.4 124.9,322.6 125.6,322.6 126.4,310.4 127.2,310.4 128.3,301.7 129.2,301.7 130.4,305.0 131.2,305.0 132.0,315.6 132.9,315.6 134.0,319.6 134.9,319.6 136.1,312.1 136.8,312.1 137.6,307.8 138.2,307.8 138.8,317.4 139.5,317.4 140.4,322.6 141.4,322.6 142.9,325.2 143.8,325.2 144.5,315.6 145.2,315.6 146.2,299.9 147.0,299.9 147.9,287.7 148.7,287.7 149.7,283.3 150.5,283.3 151.4,283.3 152.1,283.3 152.8,289.5 153.4,289.5 154.0,298.2 154.7,298.2 155.6,294.7 156.4,294.7 157.4,299.9 158.1,299.9 158.9,305.2 159.6,305.2 160.5,293.0 161.3,293.0 162.2,287.7 163.1,287.7 164.2,283.3 165.1,283.3 166.1,286.0 166.7,286.0 167.3,298.2 167.8,298.2 168.5,312.1 169.0,312.1 169.4,320.0 169.9,320.0 170.7,310.4 171.4,310.4 172.4,301.7 173.2,301.7 174.1,299.1 174.8,299.1 175.4,303.4 176.0,303.4 176.7,313.9 177.3,313.9 178.1,321.7 178.9,321.7 180.0,319.1 181.0,319.1 182.2,321.7 183.1,321.7 184.1,324.4 184.9,324.4 185.8,327.8 186.4,327.8 186.8,327.0 187.4,327.0 188.6,318.0 189.4,318.0 190.6,305.0 191.4,305.0 192.6,300.0 193.7,300.0 195.3,306.0 196.7,306.0 198.3,303.0 199.7,303.0 201.3,310.0 202.7,310.0 204.3,308.0 205.9,308.0 208.1,310.0 209.7,310.0 211.3,305.0 212.4,305.0 213.6,312.0 214.4,312.0 215.6,330.0 216.4,330.0 217.6,328.0 218.4,328.0 219.6,318.0 220.4,318.0 221.6,305.0 222.4,305.0 223.6,295.0 224.6,295.0 226.0,291.0 227.0,291.0 228.1,300.0 228.9,300.0 230.0,317.0 230.9,317.0 232.0,308.0 233.0,308.0 234.4,298.0 235.6,298.0 237.1,288.0 238.2,288.0 239.1,292.0 240.0,292.0 241.1,300.0 242.1,300.0 243.5,306.0 244.7,306.0 246.3,312.0 247.6,312.0 249.2,318.0 250.3,318.0 251.5,322.0 252.4,322.0 253.6,326.0 254.6,326.0 255.9,322.0 256.9,322.0 258.1,315.0 258.9,315.0 260.1,310.0 260.9,310.0 262.1,300.0 262.9,300.0 263.8,296.0 264.6,296.0 265.6,302.0 266.4,302.0 267.6,314.0 268.7,314.0 270.3,328.4 271.4,328.4 272.6,320.0 273.6,320.0 274.9,312.0 275.9,312.0 277.1,318.0 278.0,318.0 279.4,325.4 280.4,325.4 281.5,318.0 282.7,318.0 284.5,308.0 285.6,308.0 286.6,318.0 287.3,318.0 288.2,338.0 288.9,338.0 289.7,353.9 290.5,353.9 291.3,340.0 292.1,340.0 293.0,330.0 293.9,330.0 295.0,318.0 295.9,318.0 297.1,305.0 297.9,305.0 299.1,294.0 299.8,294.0 300.7,288.0 301.7,288.0 303.2,284.5 304.3,284.5 305.1,290.0 305.8,290.0 306.6,300.0 307.4,300.0 308.5,310.0 309.4,310.0 310.6,320.0 311.4,320.0 312.6,330.0 313.4,330.0 314.3,334.4 315.1,334.4 316.1,325.0 316.9,325.0 317.7,315.0 318.6,315.0 320.0,305.0 321.1,305.0 322.4,296.0 323.6,296.0 324.9,288.0 326.0,288.0 327.3,284.5 328.2,284.5 329.4,290.0 330.2,290.0 331.4,300.0 332.2,300.0 333.4,310.0 334.4,310.0 335.9,314.0 337.2,314.0 339.1,314.0 340.4,314.0 341.9,312.0 343.1,312.0 344.4,310.0 345.7,310.0 347.3,310.0 348.4,310.0 349.6,316.0 350.8,316.0 352.7,310.0 354.1,310.0 355.4,314.0 356.7,314.0 358.3,318.0 359.7,318.0 361.3,310.0 362.8,310.0 364.6,301.0 366.0,301.0 367.4,305.0 368.7,305.0 370.3,310.0 371.6,310.0 372.9,306.0 374.0,306.0 375.4,308.4 376.5,308.4 377.9,314.0 379.2,314.0 380.8,320.0 382.2,320.0 383.8,318.0 385.3,318.0 387.2,312.0 388.7,312.0 390.3,306.0 391.4,306.0 392.6,300.0 393.3,300.0 394.0,288.0 395.2,288.0 397.4,288.0 398.6,288.0 399.2,300.0 399.8,300.0 400.7,310.0 401.7,310.0 403.3,316.0 404.6,316.0 405.9,312.0 406.9,312.0 408.1,302.0 408.8,302.0 409.5,292.5 410.7,292.5 412.7,292.5 413.9,292.5 414.5,302.0 415.2,302.0 416.1,312.0 416.9,312.0 418.1,306.0 418.9,306.0 420.0,298.0 420.6,298.0 421.1,292.5 422.4,292.5 425.3,292.5 426.7,292.5 427.3,302.0 428.1,302.0 429.3,314.4 430.2,314.4 431.2,308.0 432.1,308.0 433.2,302.4 434.1,302.4 435.5,294.0 436.6,294.0 437.9,286.0 439.0,286.0 440.2,283.0 441.2,283.0 442.5,288.0 443.8,288.0 445.7,299.4 447.2,299.4 448.8,306.0 450.3,306.0 452.2,300.0 453.8,300.0 455.6,304.4 457.1,304.4 458.8,310.0 460.2,310.0 461.8,304.0 463.2,304.0 464.8,310.0 466.2,310.0 467.8,314.0 469.3,314.0 471.2,317.4 472.6,317.4 473.9,312.0 475.1,312.0 476.4,306.0 477.5,306.0 478.9,302.0 480.0,302.0 481.4,308.0 482.6,308.0 483.9,312.0 485.1,312.0 486.4,300.0 487.5,300.0 488.8,292.0 489.8,292.0 491.0,298.0 492.1,298.0 493.4,306.0 494.6,306.0 495.9,298.0 497.3,298.0 499.2,289.5 500.6,289.5 501.9,286.2 503.1,286.2 504.4,290.0 505.9,290.0 508.2,296.0 509.8,296.0 511.3,304.0 512.7,304.0 514.3,312.0 515.6,312.0 516.9,326.0 517.9,326.0 518.9,340.0 519.6,340.0 520.3,344.6 520.9,344.6 521.7,336.0 522.3,336.0 523.2,322.0 524.0,322.0 525.0,312.5 525.8,312.5 526.7,309.0 527.0,309.0" fill="none" stroke="#c9c9c9" stroke-width="3.8" stroke-linejoin="round" stroke-linecap="butt"/>
<polyline points="181.7,353.9 181.7,353.9 181.7,326.9 181.9,326.9 182.3,340.4 182.9,340.4 183.3,329.9 184.0,329.9 184.4,337.4 185.0,337.4 185.4,328.4 186.3,328.4 187.1,324.0 188.1,324.0 188.8,329.9 189.6,329.9 190.2,335.9 191.0,335.9 191.4,325.4 192.1,325.4 192.8,315.0 193.8,315.0 194.6,319.5 195.6,319.5 196.2,306.0 197.1,306.0 197.6,300.0 198.4,300.0 199.1,310.0 199.9,310.0 200.6,305.0 201.5,305.0 202.2,319.5 203.0,319.5 203.4,335.9 204.1,335.9 204.5,325.4 205.3,325.4 206.0,321.0 206.8,321.0 207.5,322.5 208.3,322.5 209.0,300.0 209.8,300.0 210.5,306.9 211.1,306.9 211.4,318.0 212.0,318.0 212.7,332.9 213.5,332.9 214.2,343.4 214.9,343.4 215.4,353.9 216.1,353.9 216.5,349.4 217.3,349.4 217.7,335.9 218.4,335.9 218.8,318.0 219.3,318.0 219.7,298.0 220.6,298.0 221.4,286.0 222.8,286.0 223.7,275.5 224.8,275.5 225.5,270.0 226.4,270.0 227.1,261.8 228.0,261.8 228.5,277.0 229.3,277.0 229.7,284.5 230.5,284.5 231.2,299.4 232.1,299.4 232.9,308.4 233.8,308.4 234.5,303.9 235.3,303.9 235.9,290.4 236.7,290.4 237.1,286.7 237.9,286.7 238.6,302.4 239.5,302.4 240.3,316.0 241.2,316.0 241.9,331.0 242.8,331.0 243.4,308.0 244.2,308.0 244.9,312.0 245.6,312.0 246.1,318.0 246.8,318.0 247.2,314.0 248.2,314.0 248.9,311.4 250.0,311.4 250.8,314.4 251.8,314.4 252.4,322.0 253.2,322.0 253.9,315.0 254.6,315.0 255.1,322.0 255.8,322.0 256.3,303.0 257.4,303.0 258.3,296.4 259.7,296.4 260.5,283.0 262.0,283.0 263.0,271.7 264.2,271.7 264.6,278.5 265.4,278.5 266.1,289.0 266.9,289.0 267.6,286.0 268.4,286.0 269.1,297.9 269.9,297.9 270.3,305.0 271.1,305.0 271.5,293.4 272.4,293.4 273.2,283.0 274.2,283.0 274.9,291.9 276.1,291.9 277.0,271.7 278.1,271.7 278.8,286.0 279.9,286.0 280.7,280.0 281.8,280.0 282.4,278.5 283.4,278.5 284.1,259.8 285.0,259.8 285.5,278.5 286.3,278.5 286.9,294.9 287.9,294.9 288.7,307.5 289.8,307.5 290.6,315.0 291.6,315.0 292.2,294.9 293.1,294.9 293.8,277.0 294.6,277.0 295.2,264.2 296.1,264.2 296.7,278.5 297.6,278.5 298.2,296.0 299.1,296.0 299.7,308.0 300.6,308.0 301.2,323.0 301.9,323.0 302.3,328.0 302.8,328.0 303.2,310.0 303.6,310.0 303.8,290.0 304.2,290.0 304.6,277.7 305.2,277.7 305.7,289.0 306.6,289.0 307.2,287.5 308.1,287.5 308.7,297.9 309.6,297.9 310.2,296.4 311.1,296.4 311.7,309.0 312.8,309.0 313.7,309.0 314.8,309.0 315.4,315.0 316.6,315.0 317.4,327.0 318.8,327.0 319.7,330.5 321.1,330.5 321.9,315.0 323.1,315.0 323.7,303.0 324.6,303.0 325.2,286.0 326.1,286.0 326.7,279.2 327.6,279.2 328.2,290.4 329.1,290.4 329.7,299.4 330.6,299.4 331.2,310.0 332.1,310.0 332.7,319.5 333.8,319.5 334.6,326.5 335.9,326.5 336.6,336.0 337.6,336.0 338.2,344.9 338.9,344.9 339.3,325.0 339.8,325.0 340.1,310.0 340.7,310.0 341.1,324.0 341.9,324.0 342.6,310.0 343.4,310.0 344.1,316.5 344.9,316.5 345.6,325.4 346.4,325.4 347.1,343.4 348.2,343.4 349.0,345.7 350.1,345.7 350.8,335.9 351.9,335.9 352.8,335.2 353.9,335.2 354.6,343.4 355.4,343.4 355.8,333.7 356.7,333.7 357.5,333.7 358.2,333.7 358.5,344.2 359.8,344.2 361.4,345.7 362.9,345.7 363.6,334.4 364.2,334.4 364.5,315.0 364.9,315.0 365.2,306.9 365.8,306.9 366.4,294.9 367.2,294.9 367.7,282.2 368.4,282.2 368.8,293.4 369.6,293.4 370.2,296.4 371.1,296.4 371.8,302.4 372.6,302.4 373.2,296.4 374.4,296.4 375.2,296.4 376.3,296.4 376.9,279.2 377.7,279.2 378.2,289.0 378.9,289.0 379.3,283.0 380.0,283.0 380.4,291.9 381.1,291.9 381.8,294.9 382.6,294.9 383.0,305.4 383.8,305.4 384.4,331.0 385.1,331.0 385.5,319.5 386.4,319.5 387.2,306.1 388.3,306.1 388.9,311.7 389.8,311.7 390.4,314.7 391.4,314.7 392.2,323.7 393.0,323.7 393.3,335.9 393.9,335.9 394.3,313.0 395.1,313.0 395.7,300.9 396.8,300.9 397.7,305.4 398.8,305.4 399.4,312.0 400.3,312.0 400.9,335.9 401.6,335.9 401.9,319.5 402.5,319.5 403.1,312.0 403.9,312.0 404.3,320.0 405.1,320.0 405.5,329.9 406.3,329.9 406.9,337.4 407.8,337.4 408.2,346.4 408.9,346.4 409.3,329.9 409.8,329.9 410.2,323.0 410.8,323.0 411.4,315.5 412.3,315.5 412.9,307.0 413.8,307.0 414.4,302.4 415.3,302.4 415.9,297.2 416.8,297.2 417.4,308.4 418.2,308.4 418.9,315.9 419.8,315.9 420.4,306.9 421.2,306.9 421.9,311.4 422.8,311.4 423.4,302.4 424.2,302.4 424.6,300.9 425.3,300.9 425.8,314.7 426.6,314.7 427.2,325.2 428.1,325.2 428.7,337.4 429.3,337.4 429.6,349.4 430.2,349.4 430.6,353.8 431.3,353.8 431.8,343.5 432.5,343.5 433.0,331.0 433.8,331.0 434.2,313.0 435.0,313.0 435.4,283.0 436.2,283.0 436.8,264.0 437.8,264.0 438.5,259.9 439.8,259.9 440.6,246.8 441.6,246.8 442.1,263.2 442.9,263.2 443.5,279.7 444.5,279.7 445.2,300.0 446.2,300.0 446.8,315.8 447.8,315.8 448.4,300.0 449.4,300.0 450.1,279.7 451.0,279.7 451.5,268.1 452.3,268.1 452.7,282.9 453.6,282.9 454.2,282.9 455.2,282.9 455.9,303.0 456.6,303.0 457.0,320.7 457.6,320.7 458.2,300.0 458.9,300.0 459.4,291.2 460.2,291.2 460.8,281.3 461.7,281.3 462.2,276.4 463.2,276.4 464.0,287.9 465.1,287.9 465.7,296.1 466.9,296.1 467.9,299.4 469.2,299.4 469.9,287.9 470.9,287.9 471.5,282.9 472.5,282.9 473.2,277.2 474.0,277.2 474.5,295.0 475.5,295.0 476.3,320.0 477.7,320.0 478.7,332.2 479.9,332.2 480.6,338.8 481.8,338.8 482.8,338.0 484.0,338.0 484.7,324.0 485.7,324.0 486.3,311.0 487.3,311.0 488.0,299.4 489.0,299.4 489.6,296.1 490.6,296.1 491.3,306.0 492.3,306.0 492.9,313.0 493.9,313.0 494.6,319.1 495.8,319.1 496.8,322.4 498.0,322.4 498.7,312.0 499.7,312.0 500.3,296.1 501.3,296.1 502.0,284.6 503.0,284.6 503.6,273.9 504.6,273.9 505.3,273.9 506.0,273.9 506.4,286.2 507.1,286.2 507.7,299.4 508.7,299.4 509.4,315.8 510.4,315.8 511.0,328.9 511.8,328.9 512.1,312.5 512.6,312.5 513.0,304.4 513.7,304.4 514.3,299.8 515.3,299.8 516.0,307.7 516.7,307.7 517.1,314.1 517.5,314.1 517.9,300.0 518.4,300.0 518.7,311.0 519.4,311.0 519.8,305.0 520.6,305.0 521.2,293.5 522.1,293.5 522.6,302.7 523.6,302.7 524.2,299.4 524.7,299.4" fill="none" stroke="#32b3ac" stroke-width="2.0" stroke-linejoin="miter" stroke-linecap="butt"/>
<polyline points="179.5,353.9 181.8,353.9 184.8,353.9 187.2,353.9 187.5,344.9 188.1,344.9 188.8,322.5 189.6,322.5 190.2,314.0 191.1,314.0 191.8,306.0 192.6,306.0 193.2,297.0 194.1,297.0 194.8,308.0 195.6,308.0 196.2,319.0 197.1,319.0 197.8,307.0 198.5,307.0 198.9,335.0 199.6,335.0 200.2,315.0 201.0,315.0 201.3,296.4 202.1,296.4 202.9,308.4 203.8,308.4 204.5,306.9 205.3,306.9 206.0,330.0 206.9,330.0 207.7,333.7 208.8,333.7 209.5,316.0 210.5,316.0 211.2,300.9 211.9,300.9 212.4,314.4 213.1,314.4 213.8,296.4 214.6,296.4 215.2,309.9 216.3,309.9 217.0,320.4 218.0,320.4 218.7,302.4 219.5,302.4 220.2,309.9 221.0,309.9 221.7,306.9 222.7,306.9 223.5,297.9 224.5,297.9 225.2,316.5 226.1,316.5 226.9,293.4 227.9,293.4 228.7,291.2 229.6,291.2 230.0,303.9 230.8,303.9 231.5,311.4 232.3,311.4 233.0,320.0 233.8,320.0 234.5,335.2 235.3,335.2 235.9,329.9 236.8,329.9 237.4,314.4 238.2,314.4 238.9,300.9 239.8,300.9 240.4,293.4 241.2,293.4 241.9,309.9 242.8,309.9 243.4,300.9 244.5,300.9 245.4,283.0 246.5,283.0 247.2,294.9 248.0,294.9 248.7,291.9 249.5,291.9 250.2,308.0 251.0,308.0 251.7,326.9 252.6,326.9 253.2,335.9 254.3,335.9 255.1,344.0 256.1,344.0 256.8,333.0 257.7,333.0 258.5,330.0 259.7,330.0 260.5,319.5 261.9,319.5 262.8,302.6 263.9,302.6 264.6,312.0 265.4,312.0 266.1,316.5 267.2,316.5 268.0,301.5 269.8,301.5 271.4,301.5 272.9,301.5 273.6,309.0 274.7,309.0 275.5,325.4 276.9,325.4 277.7,305.0 279.1,305.0 280.0,299.6 281.4,299.6 282.2,293.4 283.4,293.4 284.2,283.0 285.3,283.0 286.1,296.0 287.1,296.0 287.8,315.0 288.6,315.0 289.2,344.2 290.1,344.2 290.8,329.9 291.9,329.9 292.7,303.0 293.9,303.0 294.7,293.4 295.6,293.4 296.2,308.0 297.1,308.0 297.8,326.0 298.8,326.0 299.5,343.4 300.6,343.4 301.2,345.7 302.1,345.7 302.7,335.9 303.6,335.9 304.2,318.0 305.3,318.0 306.2,307.0 307.3,307.0 307.9,313.5 308.8,313.5 309.4,316.5 310.3,316.5 310.9,326.9 312.3,326.9 313.5,325.4 314.8,325.4 315.4,316.5 316.3,316.5 316.9,311.4 318.1,311.4 318.9,307.0 320.3,307.0 321.2,302.4 322.3,302.4 322.9,294.9 323.8,294.9 324.4,303.9 325.6,303.9 326.4,291.9 328.0,291.9 329.2,287.5 330.6,287.5 331.2,297.9 332.1,297.9 332.7,309.0 333.8,309.0 334.6,324.0 336.0,324.0 336.9,318.0 338.3,318.0 339.1,314.7 340.5,314.7 341.4,303.5 342.6,303.5 343.2,312.0 344.1,312.0 344.7,329.9 345.9,329.9 346.8,344.9 347.9,344.9 348.6,328.4 349.7,328.4 350.5,322.5 351.9,322.5 352.8,316.5 353.9,316.5 354.6,307.5 355.7,307.5 356.5,304.2 357.7,304.2 358.5,296.4 359.4,296.4 360.1,310.5 361.1,310.5 361.9,328.4 362.9,328.4 363.6,334.4 364.4,334.4 365.0,318.0 365.8,318.0 366.4,309.0 367.3,309.0 367.9,291.9 368.8,291.9 369.4,304.5 370.4,304.5 371.2,315.0 372.3,315.0 373.1,325.4 374.4,325.4 375.2,334.4 376.3,334.4 376.9,319.5 377.9,319.5 378.7,309.0 379.8,309.0 380.6,300.2 381.6,300.2 382.2,313.5 383.1,313.5 383.8,326.9 384.6,326.9 385.2,335.9 386.1,335.9 386.8,322.5 387.9,322.5 388.7,313.5 390.1,313.5 390.9,304.5 392.3,304.5 393.2,309.0 394.6,309.0 395.4,296.4 396.6,296.4 397.2,306.0 398.1,306.0 398.7,316.5 399.6,316.5 400.2,326.9 401.3,326.9 402.2,322.5 403.3,322.5 403.9,310.5 405.1,310.5 405.9,316.5 407.1,316.5 407.7,309.0 408.8,309.0 409.7,302.7 410.9,302.7 411.7,298.7 412.6,298.7 413.2,307.5 414.3,307.5 415.0,315.0 416.3,315.0 417.1,334.4 418.5,334.4 419.4,326.9 420.6,326.9 421.2,335.9 422.1,335.9 422.7,322.5 423.8,322.5 424.6,318.0 426.0,318.0 426.9,319.5 428.1,319.5 428.7,334.4 429.8,334.4 430.6,329.9 431.8,329.9 432.4,322.5 433.2,322.5 433.9,315.0 434.8,315.0 435.4,304.0 436.0,304.0 436.4,295.0 437.0,295.0 437.4,288.5 438.4,288.5 439.3,287.9 440.6,287.9 441.6,289.5 442.9,289.5 443.5,297.8 444.5,297.8 445.2,301.1 446.2,301.1 446.8,297.8 447.8,297.8 448.4,304.4 449.4,304.4 450.1,292.8 451.1,292.8 451.7,304.4 452.6,304.4 453.0,317.0 453.8,317.0 454.3,312.5 455.4,312.5 456.4,304.3 457.7,304.3 458.3,292.8 459.6,292.8 460.6,287.9 461.8,287.9 462.4,278.8 463.4,278.8 464.1,289.5 465.0,289.5 465.4,305.0 466.5,305.0 467.5,320.7 468.9,320.7 469.7,306.0 470.9,306.0 471.5,296.1 472.5,296.1 473.2,292.0 474.2,292.0 474.8,299.4 475.8,299.4 476.5,312.0 477.5,312.0 478.1,325.7 479.1,325.7 479.7,338.0 480.9,338.0 481.7,337.2 483.0,337.2 483.8,324.0 484.8,324.0 485.2,305.0 486.0,305.0 486.4,287.9 487.6,287.9 488.6,278.0 489.8,278.0 490.5,279.7 491.5,279.7 492.1,292.8 492.9,292.8 493.3,310.0 494.1,310.0 494.7,317.4 495.8,317.4 496.8,310.8 498.0,310.8 498.7,300.0 499.6,300.0 500.0,312.0 500.8,312.0 501.3,307.6 502.2,307.6 502.8,301.1 504.1,301.1 505.1,317.0 506.3,317.0 506.9,303.0 508.0,303.0 508.9,298.0 510.0,298.0 510.8,309.0 512.1,309.0 513.2,325.7 514.8,325.7 515.8,326.5 517.0,326.5 517.6,317.4 518.6,317.4 519.3,324.0 520.1,324.0 520.6,335.5 521.3,335.5 521.9,317.4 522.8,317.4 523.4,304.2 524.1,304.2 524.5,297.0 525.2,297.0 525.9,298.6 526.6,298.6 527.0,303.0 527.2,303.0" fill="none" stroke="#2d2b8d" stroke-width="2.05" stroke-linejoin="miter" stroke-linecap="butt"/>
</g>
<line x1="80.70" y1="228.30" x2="113.10" y2="228.30" stroke="#c9c9c9" stroke-width="3.6" />
<text x="118.50" y="233.60" font-size="14.95" text-anchor="start" fill="#000" textLength="34.14" lengthAdjust="spacingAndGlyphs" stroke="#000" stroke-width="0.28">Data</text>
<line x1="203.80" y1="227.20" x2="234.90" y2="227.20" stroke="#32b3ac" stroke-width="1.95" />
<text x="240.90" y="232.90" font-size="14.95" text-anchor="start" fill="#000" textLength="140.15" lengthAdjust="spacingAndGlyphs" stroke="#000" stroke-width="0.28">Distance weighting</text>
<line x1="425.80" y1="228.60" x2="456.90" y2="228.60" stroke="#2d2b8d" stroke-width="1.95" />
<text x="462.80" y="233.70" font-size="14.95" text-anchor="start" fill="#000" textLength="62.20" lengthAdjust="spacingAndGlyphs" stroke="#000" stroke-width="0.28">Full GLM</text>
<text x="73.40" y="351.90" font-size="9.90" text-anchor="start" fill="#000">Dyad 29</text>
<rect x="69.90" y="217.80" width="462.40" height="138.90" fill="none" stroke="#000" stroke-width="1.5"/>
<line x1="65.00" y1="354.10" x2="69.90" y2="354.10" stroke="#000" stroke-width="1.35" />
<text x="59.60" y="359.40" font-size="14.95" text-anchor="end" fill="#000" textLength="9.37" lengthAdjust="spacingAndGlyphs" stroke="#000" stroke-width="0.28">0</text>
<line x1="65.00" y1="309.60" x2="69.90" y2="309.60" stroke="#000" stroke-width="1.35" />
<text x="59.60" y="314.90" font-size="14.95" text-anchor="end" fill="#000" textLength="23.70" lengthAdjust="spacingAndGlyphs" stroke="#000" stroke-width="0.28">1/3</text>
<line x1="65.00" y1="265.10" x2="69.90" y2="265.10" stroke="#000" stroke-width="1.35" />
<text x="59.60" y="270.40" font-size="14.95" text-anchor="end" fill="#000" textLength="23.70" lengthAdjust="spacingAndGlyphs" stroke="#000" stroke-width="0.28">2/3</text>
<line x1="65.00" y1="220.60" x2="69.90" y2="220.60" stroke="#000" stroke-width="1.35" />
<text x="59.60" y="225.90" font-size="14.95" text-anchor="end" fill="#000" textLength="9.37" lengthAdjust="spacingAndGlyphs" stroke="#000" stroke-width="0.28">1</text>
<line x1="69.90" y1="356.70" x2="69.90" y2="361.60" stroke="#000" stroke-width="1.35" />
<text x="69.90" y="378.10" font-size="14.95" text-anchor="middle" fill="#000" textLength="9.10" lengthAdjust="spacingAndGlyphs" stroke="#000" stroke-width="0.28">0</text>
<line x1="81.46" y1="356.70" x2="81.46" y2="359.70" stroke="#000" stroke-width="1.1" />
<line x1="93.02" y1="356.70" x2="93.02" y2="359.70" stroke="#000" stroke-width="1.1" />
<line x1="104.58" y1="356.70" x2="104.58" y2="359.70" stroke="#000" stroke-width="1.1" />
<line x1="116.14" y1="356.70" x2="116.14" y2="359.70" stroke="#000" stroke-width="1.1" />
<line x1="127.70" y1="356.70" x2="127.70" y2="361.60" stroke="#000" stroke-width="1.35" />
<text x="127.70" y="378.10" font-size="14.95" text-anchor="middle" fill="#000" textLength="18.20" lengthAdjust="spacingAndGlyphs" stroke="#000" stroke-width="0.28">05</text>
<line x1="139.26" y1="356.70" x2="139.26" y2="359.70" stroke="#000" stroke-width="1.1" />
<line x1="150.82" y1="356.70" x2="150.82" y2="359.70" stroke="#000" stroke-width="1.1" />
<line x1="162.38" y1="356.70" x2="162.38" y2="359.70" stroke="#000" stroke-width="1.1" />
<line x1="173.94" y1="356.70" x2="173.94" y2="359.70" stroke="#000" stroke-width="1.1" />
<line x1="185.50" y1="356.70" x2="185.50" y2="361.60" stroke="#000" stroke-width="1.35" />
<text x="185.50" y="378.10" font-size="14.95" text-anchor="middle" fill="#000" textLength="18.20" lengthAdjust="spacingAndGlyphs" stroke="#000" stroke-width="0.28">10</text>
<line x1="197.06" y1="356.70" x2="197.06" y2="359.70" stroke="#000" stroke-width="1.1" />
<line x1="208.62" y1="356.70" x2="208.62" y2="359.70" stroke="#000" stroke-width="1.1" />
<line x1="220.18" y1="356.70" x2="220.18" y2="359.70" stroke="#000" stroke-width="1.1" />
<line x1="231.74" y1="356.70" x2="231.74" y2="359.70" stroke="#000" stroke-width="1.1" />
<line x1="243.30" y1="356.70" x2="243.30" y2="361.60" stroke="#000" stroke-width="1.35" />
<text x="243.30" y="378.10" font-size="14.95" text-anchor="middle" fill="#000" textLength="18.20" lengthAdjust="spacingAndGlyphs" stroke="#000" stroke-width="0.28">15</text>
<line x1="254.86" y1="356.70" x2="254.86" y2="359.70" stroke="#000" stroke-width="1.1" />
<line x1="266.42" y1="356.70" x2="266.42" y2="359.70" stroke="#000" stroke-width="1.1" />
<line x1="277.98" y1="356.70" x2="277.98" y2="359.70" stroke="#000" stroke-width="1.1" />
<line x1="289.54" y1="356.70" x2="289.54" y2="359.70" stroke="#000" stroke-width="1.1" />
<line x1="301.10" y1="356.70" x2="301.10" y2="361.60" stroke="#000" stroke-width="1.35" />
<text x="301.10" y="378.10" font-size="14.95" text-anchor="middle" fill="#000" textLength="18.20" lengthAdjust="spacingAndGlyphs" stroke="#000" stroke-width="0.28">20</text>
<line x1="312.66" y1="356.70" x2="312.66" y2="359.70" stroke="#000" stroke-width="1.1" />
<line x1="324.22" y1="356.70" x2="324.22" y2="359.70" stroke="#000" stroke-width="1.1" />
<line x1="335.78" y1="356.70" x2="335.78" y2="359.70" stroke="#000" stroke-width="1.1" />
<line x1="347.34" y1="356.70" x2="347.34" y2="359.70" stroke="#000" stroke-width="1.1" />
<line x1="358.90" y1="356.70" x2="358.90" y2="361.60" stroke="#000" stroke-width="1.35" />
<text x="358.90" y="378.10" font-size="14.95" text-anchor="middle" fill="#000" textLength="18.20" lengthAdjust="spacingAndGlyphs" stroke="#000" stroke-width="0.28">25</text>
<line x1="370.46" y1="356.70" x2="370.46" y2="359.70" stroke="#000" stroke-width="1.1" />
<line x1="382.02" y1="356.70" x2="382.02" y2="359.70" stroke="#000" stroke-width="1.1" />
<line x1="393.58" y1="356.70" x2="393.58" y2="359.70" stroke="#000" stroke-width="1.1" />
<line x1="405.14" y1="356.70" x2="405.14" y2="359.70" stroke="#000" stroke-width="1.1" />
<line x1="416.70" y1="356.70" x2="416.70" y2="361.60" stroke="#000" stroke-width="1.35" />
<text x="416.70" y="378.10" font-size="14.95" text-anchor="middle" fill="#000" textLength="18.20" lengthAdjust="spacingAndGlyphs" stroke="#000" stroke-width="0.28">30</text>
<line x1="428.26" y1="356.70" x2="428.26" y2="359.70" stroke="#000" stroke-width="1.1" />
<line x1="439.82" y1="356.70" x2="439.82" y2="359.70" stroke="#000" stroke-width="1.1" />
<line x1="451.38" y1="356.70" x2="451.38" y2="359.70" stroke="#000" stroke-width="1.1" />
<line x1="462.94" y1="356.70" x2="462.94" y2="359.70" stroke="#000" stroke-width="1.1" />
<line x1="474.50" y1="356.70" x2="474.50" y2="361.60" stroke="#000" stroke-width="1.35" />
<text x="474.50" y="378.10" font-size="14.95" text-anchor="middle" fill="#000" textLength="18.20" lengthAdjust="spacingAndGlyphs" stroke="#000" stroke-width="0.28">35</text>
<line x1="486.06" y1="356.70" x2="486.06" y2="359.70" stroke="#000" stroke-width="1.1" />
<line x1="497.62" y1="356.70" x2="497.62" y2="359.70" stroke="#000" stroke-width="1.1" />
<line x1="509.18" y1="356.70" x2="509.18" y2="359.70" stroke="#000" stroke-width="1.1" />
<line x1="520.74" y1="356.70" x2="520.74" y2="359.70" stroke="#000" stroke-width="1.1" />
<line x1="532.30" y1="356.70" x2="532.30" y2="361.60" stroke="#000" stroke-width="1.35" />
<text x="532.30" y="378.10" font-size="14.95" text-anchor="middle" fill="#000" textLength="18.20" lengthAdjust="spacingAndGlyphs" stroke="#000" stroke-width="0.28">40</text>
<text x="301.00" y="397.50" font-size="14.95" text-anchor="middle" fill="#000" textLength="77.67" lengthAdjust="spacingAndGlyphs" stroke="#000" stroke-width="0.28">Time (min)</text>
<text x="10.80" y="287.80" font-size="14.95" text-anchor="middle" fill="#000" textLength="133.78" lengthAdjust="spacingAndGlyphs" stroke="#000" stroke-width="0.28" transform="rotate(-90 10.80 287.80)">30-Second moving</text>
<text x="27.10" y="287.80" font-size="14.95" text-anchor="middle" fill="#000" textLength="88.87" lengthAdjust="spacingAndGlyphs" stroke="#000" stroke-width="0.28" transform="rotate(-90 27.10 287.80)">average FST</text>
<text x="-1.00" y="212.50" font-size="16.00" text-anchor="start" fill="#000" font-weight="bold">c</text>
<rect x="599.20" y="281.70" width="16.40" height="6.7" fill="#e6e6e6" stroke="#000" stroke-width="1"/>
<rect x="599.20" y="288.40" width="23.20" height="6.7" fill="#e6e6e6" stroke="#000" stroke-width="1"/>
<rect x="599.20" y="295.10" width="54.60" height="6.7" fill="#e6e6e6" stroke="#000" stroke-width="1"/>
<rect x="599.20" y="301.80" width="59.10" height="6.7" fill="#e6e6e6" stroke="#000" stroke-width="1"/>
<rect x="599.20" y="308.50" width="73.90" height="6.7" fill="#e6e6e6" stroke="#000" stroke-width="1"/>
<rect x="599.20" y="315.20" width="78.40" height="6.7" fill="#e6e6e6" stroke="#000" stroke-width="1"/>
<rect x="599.20" y="321.90" width="46.30" height="6.7" fill="#e6e6e6" stroke="#000" stroke-width="1"/>
<rect x="599.20" y="328.60" width="8.80" height="6.7" fill="#e6e6e6" stroke="#000" stroke-width="1"/>
<rect x="599.20" y="335.30" width="3.70" height="6.7" fill="#e6e6e6" stroke="#000" stroke-width="1"/>
<rect x="599.20" y="342.00" width="1.60" height="6.7" fill="#e6e6e6" stroke="#000" stroke-width="1"/>
<clipPath id="cd"><rect x="599.2" y="217.85" width="82.09999999999991" height="138.85"/></clipPath>
<g clip-path="url(#cd)">
<path d="M599.30,268.00 C599.33,268.83 599.32,271.58 599.50,273.00 C599.68,274.42 599.95,275.50 600.40,276.50 C600.85,277.50 601.50,278.25 602.20,279.00 C602.90,279.75 602.68,280.03 604.60,281.00 C606.52,281.97 610.63,283.43 613.70,284.80 C616.77,286.17 618.95,287.52 623.00,289.20 C627.05,290.88 633.33,293.18 638.00,294.90 C642.67,296.62 647.17,297.98 651.00,299.50 C654.83,301.02 658.08,302.53 661.00,304.00 C663.92,305.47 666.37,307.00 668.50,308.30 C670.63,309.60 672.68,310.87 673.80,311.80 C674.92,312.73 675.37,313.10 675.20,313.90 C675.03,314.70 674.83,315.62 672.80,316.60 C670.77,317.58 667.13,318.67 663.00,319.80 C658.87,320.93 653.00,322.20 648.00,323.40 C643.00,324.60 637.83,325.82 633.00,327.00 C628.17,328.18 622.83,329.30 619.00,330.50 C615.17,331.70 612.40,332.73 610.00,334.20 C607.60,335.67 605.88,337.33 604.60,339.30 C603.32,341.27 602.85,343.22 602.30,346.00 C601.75,348.78 601.47,354.33 601.30,356.00" fill="none" stroke="#c3c3c3" stroke-width="3.3" stroke-linecap="round"/>
<path d="M599.50,226.00 C599.57,228.33 599.67,235.68 599.90,240.00 C600.13,244.32 600.40,248.25 600.90,251.90 C601.40,255.55 602.07,259.23 602.90,261.90 C603.73,264.57 604.22,265.48 605.90,267.90 C607.58,270.32 610.70,273.80 613.00,276.40 C615.30,279.00 617.28,281.13 619.70,283.50 C622.12,285.87 624.88,288.52 627.50,290.60 C630.12,292.68 632.97,294.20 635.40,296.00 C637.83,297.80 640.30,299.75 642.10,301.40 C643.90,303.05 645.27,304.40 646.20,305.90 C647.13,307.40 647.63,308.90 647.70,310.40 C647.77,311.90 647.33,313.40 646.60,314.90 C645.87,316.40 644.80,317.72 643.30,319.40 C641.80,321.08 639.67,323.13 637.60,325.00 C635.53,326.87 633.32,328.55 630.90,330.60 C628.48,332.65 625.72,335.05 623.10,337.30 C620.48,339.55 617.63,341.98 615.20,344.10 C612.77,346.22 610.37,347.98 608.50,350.00 C606.63,352.02 604.75,355.17 604.00,356.20" fill="none" stroke="#32b3ac" stroke-width="2.3" stroke-linecap="round"/>
<path d="M599.50,268.00 C599.53,269.00 599.52,272.17 599.70,274.00 C599.88,275.83 600.07,277.57 600.60,279.00 C601.13,280.43 601.58,281.30 602.90,282.60 C604.22,283.90 606.08,285.35 608.50,286.80 C610.92,288.25 614.03,289.88 617.40,291.30 C620.77,292.72 624.95,294.02 628.70,295.30 C632.45,296.58 636.17,297.75 639.90,299.00 C643.63,300.25 647.37,301.43 651.10,302.80 C654.83,304.17 659.30,305.93 662.30,307.20 C665.30,308.47 667.48,309.30 669.10,310.40 C670.72,311.50 672.00,312.60 672.00,313.80 C672.00,315.00 671.08,316.37 669.10,317.60 C667.12,318.83 663.47,319.97 660.10,321.20 C656.73,322.43 653.02,323.62 648.90,325.00 C644.78,326.38 639.90,328.00 635.40,329.50 C630.90,331.00 625.63,332.67 621.90,334.00 C618.17,335.33 615.43,336.30 613.00,337.50 C610.57,338.70 608.73,339.88 607.30,341.20 C605.87,342.52 605.07,343.85 604.40,345.40 C603.73,346.95 603.55,348.70 603.30,350.50 C603.05,352.30 602.97,355.25 602.90,356.20" fill="none" stroke="#2d2b8d" stroke-width="2.3" stroke-linecap="round"/>
</g>
<rect x="599.20" y="217.85" width="82.10" height="138.85" fill="none" stroke="#000" stroke-width="1.5"/>
<line x1="594.30" y1="354.10" x2="599.20" y2="354.10" stroke="#000" stroke-width="1.35" />
<text x="589.00" y="359.40" font-size="14.95" text-anchor="end" fill="#000" textLength="9.37" lengthAdjust="spacingAndGlyphs" stroke="#000" stroke-width="0.28">0</text>
<line x1="594.30" y1="309.60" x2="599.20" y2="309.60" stroke="#000" stroke-width="1.35" />
<text x="589.00" y="314.90" font-size="14.95" text-anchor="end" fill="#000" textLength="23.70" lengthAdjust="spacingAndGlyphs" stroke="#000" stroke-width="0.28">1/3</text>
<line x1="594.30" y1="265.10" x2="599.20" y2="265.10" stroke="#000" stroke-width="1.35" />
<text x="589.00" y="270.40" font-size="14.95" text-anchor="end" fill="#000" textLength="23.70" lengthAdjust="spacingAndGlyphs" stroke="#000" stroke-width="0.28">2/3</text>
<line x1="594.30" y1="220.60" x2="599.20" y2="220.60" stroke="#000" stroke-width="1.35" />
<text x="589.00" y="225.90" font-size="14.95" text-anchor="end" fill="#000" textLength="9.37" lengthAdjust="spacingAndGlyphs" stroke="#000" stroke-width="0.28">1</text>
<line x1="599.20" y1="356.70" x2="599.20" y2="361.60" stroke="#000" stroke-width="1.35" />
<text x="599.20" y="378.10" font-size="14.95" text-anchor="middle" fill="#000" textLength="9.10" lengthAdjust="spacingAndGlyphs" stroke="#000" stroke-width="0.28">0</text>
<line x1="681.30" y1="356.70" x2="681.30" y2="361.60" stroke="#000" stroke-width="1.35" />
<text x="681.30" y="378.10" font-size="14.95" text-anchor="middle" fill="#000" textLength="9.10" lengthAdjust="spacingAndGlyphs" stroke="#000" stroke-width="0.28">5</text>
<text x="644.40" y="397.70" font-size="14.95" text-anchor="middle" fill="#000" textLength="54.37" lengthAdjust="spacingAndGlyphs" stroke="#000" stroke-width="0.28">Density</text>
</svg>
</body></html>
